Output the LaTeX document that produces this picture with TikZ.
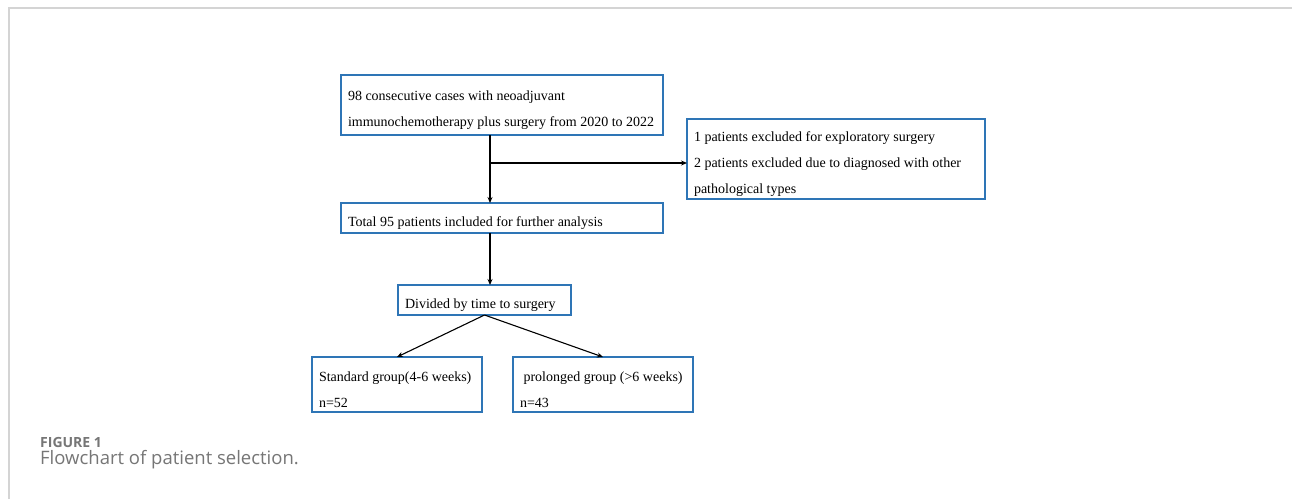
\documentclass[tikz,border=0pt]{standalone}
\usepackage{fontspec}
\setmainfont{Liberation Serif}
\newfontfamily\capfont{Open Sans}
\usetikzlibrary{positioning,arrows.meta,calc}
\definecolor{boxblue}{RGB}{46,117,182}
\definecolor{capgray}{RGB}{118,118,118}
\definecolor{frmgray}{RGB}{212,212,212}
\tikzset{
  box/.style={draw=boxblue, line width=1.3pt, outer sep=0pt, inner xsep=7pt, inner ysep=0pt, align=flush left, font=\fontsize{14}{26}\selectfont, execute at begin node={\spaceskip=0pt\xspaceskip=0pt\rule{0pt}{20pt}}},
  arr/.style={-{Stealth[length=6pt, width=5pt]}, line width=1.1pt},
  frm/.style={draw=frmgray, line width=1.6pt},
  captxt/.style={anchor=base west, inner sep=0pt, text=capgray},
}
\begin{document}
\begin{tikzpicture}[x=1pt, y=1pt]
\useasboundingbox[fill=white] (0,0) rectangle (1292,-499);
\draw[frm] (9,-499) -- (9,-8) -- (1292,-8);
\node[box, anchor=north west, text width=308pt, minimum height=60pt] (top) at (341,-75)
  {98 consecutive cases with neoadjuvant\\immunochemotherapy plus surgery from 2020 to 2022};
\node[box, below right=68pt and 0pt of top.south west, text width=308pt, minimum height=30pt] (incl)
  {Total 95 patients included for further analysis};
\node[box, below right=44pt and 24pt of top.north east, text width=284pt, minimum height=80pt] (excl)
  {1 patients excluded for exploratory surgery\\2 patients excluded due to diagnosed with other\\pathological types};
\node[box, below right=52pt and 57pt of incl.south west, text width=159pt, minimum height=30pt] (div)
  {Divided by time to surgery};
\node[box, below=42pt of div.south west, anchor=north west, xshift=-86pt, text width=156pt, minimum height=55pt] (std)
  {Standard group(4-6 weeks)\\n=52};
\node[box, right=31pt of std.north east, anchor=north west, text width=166pt, minimum height=55pt] (pro)
  {\hspace{3.5pt}prolonged group (>6 weeks)\\n=43};
\coordinate (fork) at ($(top.south west)+(149pt,-28pt)$);
\draw[arr] (top.south -| fork) -- (incl.north -| fork);
\draw[arr] (fork) -- (fork -| excl.west);
\draw[arr] (incl.south -| fork) -- (div.north -| fork);
\draw[arr] (div.south) -- (std.north);
\draw[arr] (div.south) -- (pro.north);
\node[captxt, font=\capfont\bfseries\fontsize{14}{16}\selectfont] (fig) at (40,-447) {FIGURE 1};
\node[captxt, font=\capfont\fontsize{18.5}{20}\selectfont] (title) at (40,-464) {Flowchart of patient selection.};
\end{tikzpicture}
\end{document}
